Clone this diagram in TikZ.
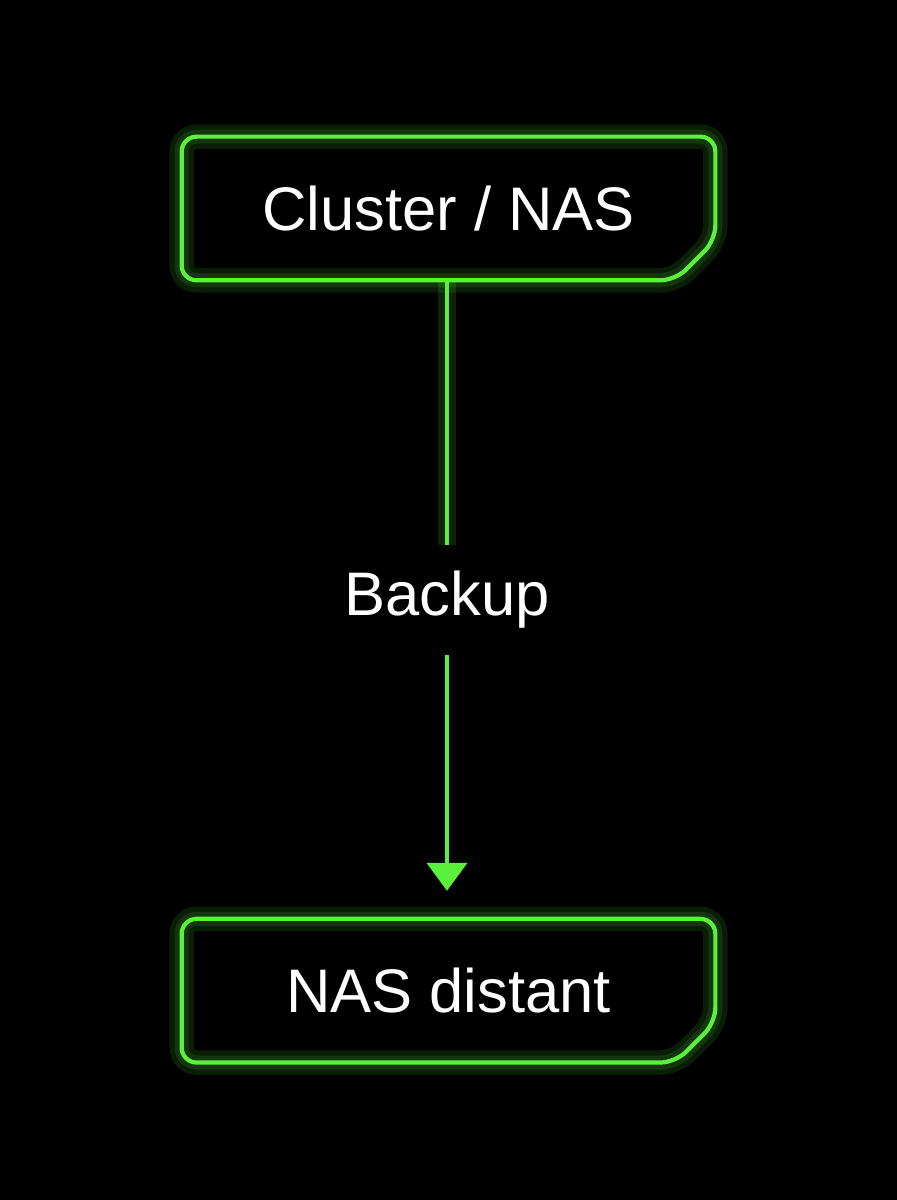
\documentclass[tikz,border=0pt]{standalone}
\usepackage{fontspec}
\setmainfont{Liberation Sans}
\usetikzlibrary{positioning,arrows.meta}
\definecolor{neon}{RGB}{90,240,60}
\tikzset{
  box/.style={minimum width=10.66cm, minimum height=2.86cm, inner sep=0pt, text=white,
    font=\fontsize{35}{40}\selectfont},
  glow/.style={draw=neon, line width=#1, opacity=0.12, rounded corners=0.3cm},
  rim/.style={draw=neon, line width=2.4pt, rounded corners=0.3cm},
  link/.style={neon, line width=2.4pt}
}
\newcommand{\outline}[2]{\draw[#2] (#1.north west) -- (#1.north east) -- ([yshift=0.8cm]#1.south east) -- ([xshift=-0.8cm]#1.south east) -- (#1.south west) -- cycle;}

\begin{document}
\begin{tikzpicture}
        \useasboundingbox (0,0) rectangle (17.92,24);
        \fill[black] (-0.1,-0.1) rectangle (18.02,24.1);
        % boxes
        \node[box] (cluster) at (8.97,19.83) {Cluster / NAS};
        \node[box, below=12.77cm of cluster] (distant) {NAS distant};
        \node[text=white, font=\fontsize{35}{40}\selectfont, minimum height=2.2cm, inner sep=0pt]
             (backup) at (8.94,12) {Backup};
        % glow and outline
        \foreach \n in {cluster,distant} {
            \outline{\n}{glow=14pt}
            \outline{\n}{glow=8pt}
            \outline{\n}{rim}
        }
        % connector
        \draw[link, opacity=0.15, line width=10pt] (cluster.south -| backup) -- (backup);
        \draw[link] (cluster.south -| backup) -- (backup);
        \draw[link, -{Triangle[width=0.8cm,length=0.56cm]}, shorten >=0.56cm]
             (backup) -- (distant.north -| backup);
\end{tikzpicture}
\end{document}
